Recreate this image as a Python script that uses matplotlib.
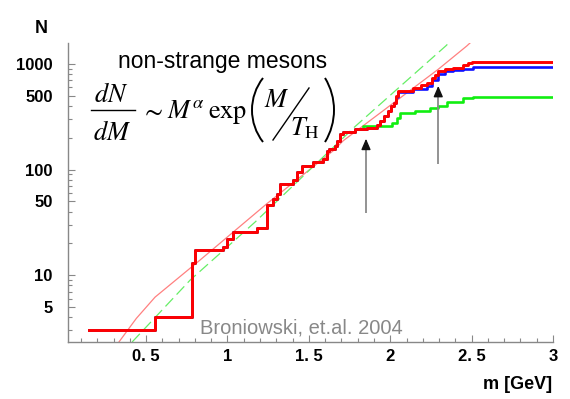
import matplotlib
matplotlib.use('Agg')
import numpy as np
import matplotlib.pyplot as plt
from matplotlib.patches import Arc

plt.rcParams['font.family'] = ['Liberation Sans', 'DejaVu Sans']
plt.rcParams['mathtext.fontset'] = 'stix'

# ---------------- data ----------------
# cumulative number of states N(m); steps drawn 'post'
shared_m = [0.15, 0.555, 0.78, 0.80, 0.974, 0.995, 1.035, 1.18, 1.241, 1.282,
            1.302, 1.323, 1.404, 1.425, 1.456, 1.527, 1.589, 1.61, 1.625, 1.66,
            1.675, 1.69, 1.712, 1.783]
shared_n = [3, 4, 13, 17.5, 18.5, 22, 25.5, 28, 46, 53,
            59, 73, 79, 94, 109, 117, 126, 151, 156, 168,
            188, 217, 228, 242]

red_tail_m = [1.86, 1.917, 1.937, 1.96, 1.985, 2.005, 2.02, 2.035, 2.05, 2.142,
              2.19, 2.224, 2.255, 2.275, 2.295, 2.336, 2.387, 2.449, 2.48, 2.50, 3.0]
red_tail_n = [250, 262, 290, 320, 360, 400, 430, 500, 560, 597,
              630, 667, 743, 790, 860, 891, 923, 979, 1028, 1050, 1050]

blue_tail_m = [1.86, 1.917, 1.937, 1.96, 1.985, 2.005, 2.02, 2.035, 2.05, 2.142,
               2.224, 2.255, 2.295, 2.336, 2.387, 2.449, 2.51, 3.0]
blue_tail_n = [250, 262, 290, 320, 360, 400, 430, 490, 545, 577,
               620, 700, 800, 850, 876, 891, 940, 940]

green_tail_m = [1.834, 2.009, 2.04, 2.06, 2.152, 2.244, 2.295, 2.347, 2.449, 2.51, 3.0]
green_tail_n = [260, 279, 311, 347, 360, 387, 402, 432, 475, 490, 490]

red_m = shared_m + red_tail_m
red_n = shared_n + red_tail_n
blue_m = shared_m + blue_tail_m
blue_n = shared_n + blue_tail_n
green_m = shared_m + green_tail_m
green_n = shared_n + green_tail_n

# Hagedorn-type fit (thin red) and exponential fit (dashed green)
fit_red_m = [0.333, 0.44, 0.555, 0.831, 1.241, 1.65, 1.712, 2.295, 2.47, 2.49]
fit_red_n = [2.33, 3.9, 6.2, 13.9, 47.4, 151, 188, 891, 1480, 1580]
fit_green_m = [0.414, 0.77, 1.169, 1.783, 2.347, 2.355]
fit_green_n = [2.33, 8.97, 31.8, 255, 1510, 1580]

# arrows (m, N_bottom, N_tip)
arrow_m = [1.851, 2.295]
arrow_lo = [38.5, 113]
arrow_hi = [196, 620]

xticks = [0.5, 1.0, 1.5, 2.0, 2.5, 3.0]
xticklabels = ['0. 5', '1', '1. 5', '2', '2. 5', '3']
yticks = [5, 10, 50, 100, 500, 1000]
yticklabels = ['5', '10', '50', '100', '500', '1000']

# ---------------- figure ----------------
W, H = 570, 399
fig = plt.figure(figsize=(W / 100, H / 100), dpi=100)
x0, x1, y0, y1 = 68, 553, 43, 342
ax = fig.add_axes([x0 / W, 1 - y1 / H, (x1 - x0) / W, (y1 - y0) / H])
ax.set_yscale('log')
ax.set_xlim(0.02, 3.0)
ax.set_ylim(2.33, 1580)

ax.plot(fit_red_m, fit_red_n, color='#ff8080', lw=0.9, zorder=2)
ax.plot(fit_green_m, fit_green_n, color='#66ee66', lw=0.9, dashes=(9, 4), zorder=2)
ax.step(green_m, green_n, where='post', color='#11ee11', lw=1.9, zorder=3)
ax.step(blue_m, blue_n, where='post', color='#1010ff', lw=1.9, zorder=4)
ax.step(red_m, red_n, where='post', color='#ff0000', lw=2.1, zorder=5)

for m, lo, hi in zip(arrow_m, arrow_lo, arrow_hi):
    ax.plot([m, m], [lo, hi / 1.08], color='#8a8a8a', lw=1.3, zorder=6,
            solid_capstyle='butt')
    ax.annotate('', xy=(m, hi), xytext=(m, hi / 1.12),
                arrowprops=dict(arrowstyle='-|>,head_length=0.65,head_width=0.28',
                                color='#111111', lw=1.0,
                                shrinkA=0, shrinkB=0), zorder=7)

for s in ['top', 'right']:
    ax.spines[s].set_visible(False)
for s in ['left', 'bottom']:
    ax.spines[s].set_color('#888888')
    ax.spines[s].set_linewidth(1.0)

ax.set_xticks(xticks)
ax.set_xticklabels(xticklabels)
ax.set_xticks(np.arange(0.1, 2.95, 0.1), minor=True)
ax.set_yticks(yticks)
ax.set_yticklabels(yticklabels)
ax.set_yticks([3, 4, 6, 7, 8, 9, 20, 30, 40, 60, 70, 80, 90,
               200, 300, 400, 600, 700, 800, 900], minor=True)
ax.yaxis.set_minor_formatter(plt.NullFormatter())
ax.xaxis.set_minor_formatter(plt.NullFormatter())
ax.tick_params(which='both', direction='in', color='#888888', width=0.8)
ax.tick_params(which='major', length=5)
ax.tick_params(which='minor', length=3)
ax.tick_params(axis='y', which='major', pad=11, labelsize=12)
ax.tick_params(axis='x', which='major', pad=5, labelsize=12)
for lab in ax.get_xticklabels() + ax.get_yticklabels():
    lab.set_fontweight('bold')

# ---------------- overlay for labels / formula (pixel coords) ----------------
ov = fig.add_axes([0, 0, 1, 1], zorder=10)
ov.set_xlim(0, W)
ov.set_ylim(H, 0)
ov.axis('off')
ov.patch.set_alpha(0)

ov.text(35, 33, 'N', fontsize=13, fontweight='bold', ha='left', va='baseline')
ov.text(552, 389, 'm [GeV]', fontsize=13, fontweight='bold', ha='right', va='baseline')
ov.text(118, 68, 'non-strange mesons', fontsize=16.5, ha='left', va='baseline')
ov.text(200, 334, 'Broniowski, et.al. 2004', fontsize=14.5, color='#888888',
        ha='left', va='baseline')

fs = 19
ov.text(111, 102, r'$dN$', fontsize=fs, ha='center', va='baseline')
ov.plot([91, 135], [110, 110], color='black', lw=1.0)
ov.text(112, 140, r'$dM$', fontsize=fs, ha='center', va='baseline')
ov.text(152, 111, r'$\sim$', fontsize=fs, ha='center', va='center')
ov.text(167, 118, r'$M^{\alpha}$', fontsize=fs, ha='left', va='baseline')
ov.text(208, 118, r'$\mathrm{exp}$', fontsize=fs, ha='left', va='baseline')
ov.add_patch(Arc((304, 110), 104, 104, theta1=142, theta2=218, color='black', lw=1.4))
ov.text(264, 107, r'$M$', fontsize=fs, ha='left', va='baseline')
ov.plot([273, 309], [140, 88], color='black', lw=1.0)
ov.text(290, 135, r'$T_{\mathrm{H}}$', fontsize=fs, ha='left', va='baseline')
ov.add_patch(Arc((272.5, 110), 123, 123, theta1=-31.4, theta2=31.4, color='black', lw=1.4))

fig.savefig('out.png', dpi=100)
